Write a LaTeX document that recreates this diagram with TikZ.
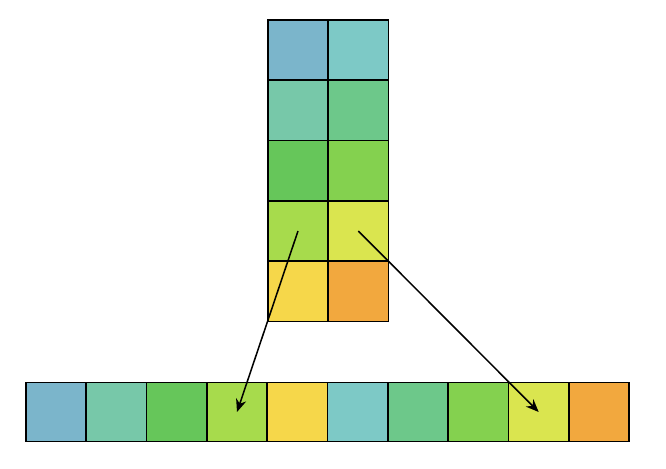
\documentclass[tikz,border=0pt]{standalone}
\usetikzlibrary{positioning, arrows.meta}

\definecolor{blueA}{HTML}{7BB5CB}
\definecolor{tealA}{HTML}{77C8A9}
\definecolor{greenA}{HTML}{66C65A}
\definecolor{limeA}{HTML}{A7DB4C}
\definecolor{yellowA}{HTML}{F6D74A}
\definecolor{tealB}{HTML}{7DC9C6}
\definecolor{greenB}{HTML}{6DC88A}
\definecolor{greenC}{HTML}{84D14F}
\definecolor{limeB}{HTML}{DAE54F}
\definecolor{orangeB}{HTML}{F2A83E}

\begin{document}
\begin{tikzpicture}[x=0.03cm, y=-0.03cm, node distance=0]

  \tikzset{cell/.style={draw, line width=1.4pt, minimum width=1.81cm, minimum height=1.81cm, inner sep=0, outer sep=0}}
  \tikzset{ptr/.style={line width=1.3pt, -{Stealth[length=11pt, width=9pt]}}}

  \useasboundingbox (0, 0) rectangle (666, 468);

  % matrix, left column
  \node[cell, fill=blueA] at (298, 50) (l1) {};
  \node[cell, fill=tealA, below=of l1] (l2) {};
  \node[cell, fill=greenA, below=of l2] (l3) {};
  \node[cell, fill=limeA, below=of l3] (l4) {};
  \node[cell, fill=yellowA, below=of l4] (l5) {};

  % matrix, right column
  \node[cell, fill=tealB, right=of l1] (r1) {};
  \node[cell, fill=greenB, below=of r1] (r2) {};
  \node[cell, fill=greenC, below=of r2] (r3) {};
  \node[cell, fill=limeB, below=of r3] (r4) {};
  \node[cell, fill=orangeB, below=of r4] (r5) {};

  % flattened row
  \node[cell, fill=blueA, minimum height=1.77cm] at (56, 412) (b1) {};
  \node[cell, fill=tealA, minimum height=1.77cm, right=of b1] (b2) {};
  \node[cell, fill=greenA, minimum height=1.77cm, right=of b2] (b3) {};
  \node[cell, fill=limeA, minimum height=1.77cm, right=of b3] (b4) {};
  \node[cell, fill=yellowA, minimum height=1.77cm, right=of b4] (b5) {};
  \node[cell, fill=tealB, minimum height=1.77cm, right=of b5] (b6) {};
  \node[cell, fill=greenB, minimum height=1.77cm, right=of b6] (b7) {};
  \node[cell, fill=greenC, minimum height=1.77cm, right=of b7] (b8) {};
  \node[cell, fill=limeB, minimum height=1.77cm, right=of b8] (b9) {};
  \node[cell, fill=orangeB, minimum height=1.77cm, right=of b9] (b10) {};

  % where the cells go
  \draw[ptr] (l4.center) -- (b4.center);
  \draw[ptr] (r4.center) -- (b9.center);
\end{tikzpicture}
\end{document}
